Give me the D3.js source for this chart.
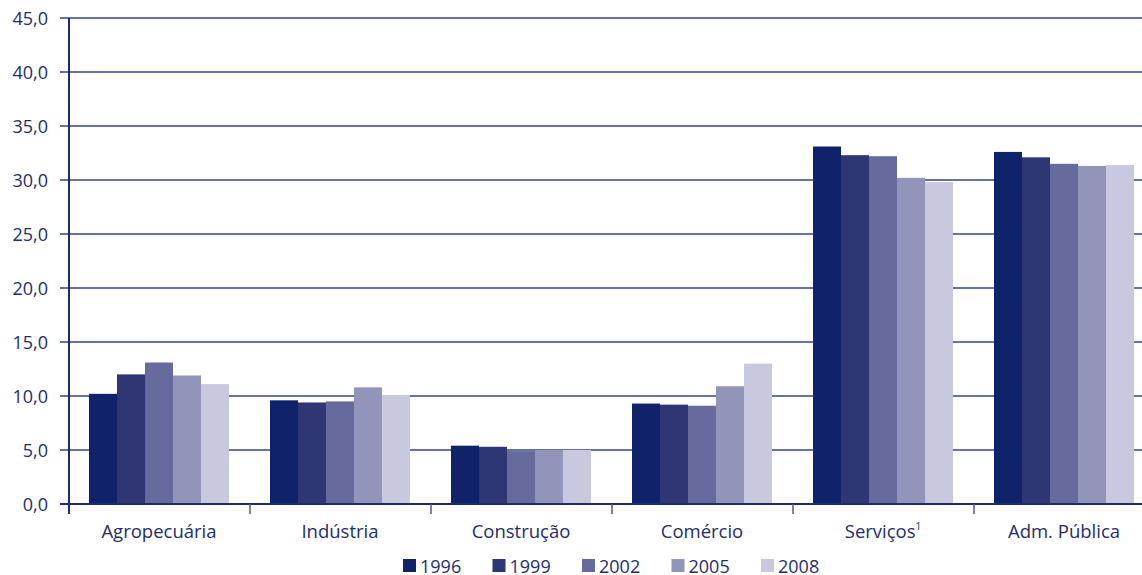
<!DOCTYPE html>
<html>
<head>
<meta charset="utf-8">
<script src="https://cdn.jsdelivr.net/npm/d3@7"></script>
<style>
body { margin: 0; background: #fff; }
svg { font-family: "Open Sans", "Noto Sans", sans-serif; }
</style>
</head>
<body>
<div id="chart"></div>
<script>
// dados
var categorias = ["Agropecuária", "Indústria", "Construção", "Comércio", "Serviços", "Adm. Pública"];
var anos = ["1996", "1999", "2002", "2005", "2008"];
var v1996 = [10.2, 9.6, 5.4, 9.3, 33.1, 32.6];
var v1999 = [12.0, 9.4, 5.3, 9.2, 32.3, 32.1];
var v2002 = [13.1, 9.5, 4.9, 9.1, 32.2, 31.5];
var v2005 = [11.9, 10.8, 5.0, 10.9, 30.2, 31.3];
var v2008 = [11.1, 10.1, 5.0, 13.0, 29.8, 31.4];
var series = [v1996, v1999, v2002, v2005, v2008];
var yTicks = [0, 5, 10, 15, 20, 25, 30, 35, 40, 45];
var cores = ["#0f226a", "#2e3674", "#666a9c", "#9295ba", "#c8c9de"];

var width = 1142, height = 575;
var mLeft = 69, mRight = 1155, mTop = 18, mBottom = 504;
var navy = "#1f2d6b";

var svg = d3.select("#chart").append("svg")
    .attr("width", width)
    .attr("height", height);

var y = d3.scaleLinear().domain([0, 45]).range([mBottom, mTop]);
var x0 = d3.scaleBand().domain(categorias).range([mLeft, mRight]);
var x1 = d3.scaleBand().domain(anos).range([20, 160]);

// grade
svg.append("g").selectAll("line")
    .data(yTicks.filter(d => d > 0))
    .enter().append("line")
    .attr("x1", mLeft - 9).attr("x2", width)
    .attr("y1", d => y(d)).attr("y2", d => y(d))
    .attr("stroke", "#33437f")
    .attr("stroke-width", 1.4);

svg.append("g").selectAll("text")
    .data(yTicks)
    .enter().append("text")
    .attr("x", 48).attr("y", d => y(d) + 6.5)
    .attr("text-anchor", "end")
    .attr("fill", navy)
    .style("font-size", "18px")
    .text(d => d3.format(".1f")(d).replace(".", ","));

// barras
var grupos = svg.append("g").selectAll("g")
    .data(categorias)
    .enter().append("g")
    .attr("transform", d => "translate(" + x0(d) + ",0)");

grupos.selectAll("rect")
    .data((c, i) => anos.map((a, j) => ({ ano: a, v: series[j][i], j: j })))
    .enter().append("rect")
    .attr("x", d => x1(d.ano))
    .attr("width", x1.bandwidth())
    .attr("y", d => y(d.v))
    .attr("height", d => mBottom - y(d.v))
    .attr("fill", d => cores[d.j]);

// eixos
svg.append("line")
    .attr("x1", mLeft).attr("x2", mLeft)
    .attr("y1", mTop).attr("y2", mBottom + 10)
    .attr("stroke", navy).attr("stroke-width", 2);
svg.append("line")
    .attr("x1", mLeft - 9).attr("x2", width)
    .attr("y1", mBottom).attr("y2", mBottom)
    .attr("stroke", navy).attr("stroke-width", 2);

svg.append("g").selectAll("line")
    .data(categorias.slice(1))
    .enter().append("line")
    .attr("x1", d => x0(d)).attr("x2", d => x0(d))
    .attr("y1", mBottom).attr("y2", mBottom + 10)
    .attr("stroke", "#4a5a96").attr("stroke-width", 1.5);

var rot = svg.append("g").selectAll("text")
    .data(categorias)
    .enter().append("text")
    .attr("x", d => x0(d) + 20 + 70)
    .attr("y", 538)
    .attr("text-anchor", "middle")
    .attr("fill", navy)
    .style("font-size", "18.5px")
    .text(d => d);
rot.filter(d => d == "Serviços").append("tspan")
    .attr("dy", -8).style("font-size", "10px").text("1");

// legenda
var leg = svg.append("g").selectAll("g")
    .data(anos)
    .enter().append("g")
    .attr("transform", (d, i) => "translate(" + (403 + i * 89.5) + ",559)");
leg.append("rect").attr("width", 13).attr("height", 13)
    .attr("fill", (d, i) => cores[i]);
leg.append("text").attr("x", 17).attr("y", 13.5)
    .attr("fill", navy)
    .style("font-size", "18px")
    .text(d => d);
</script>
</body>
</html>
